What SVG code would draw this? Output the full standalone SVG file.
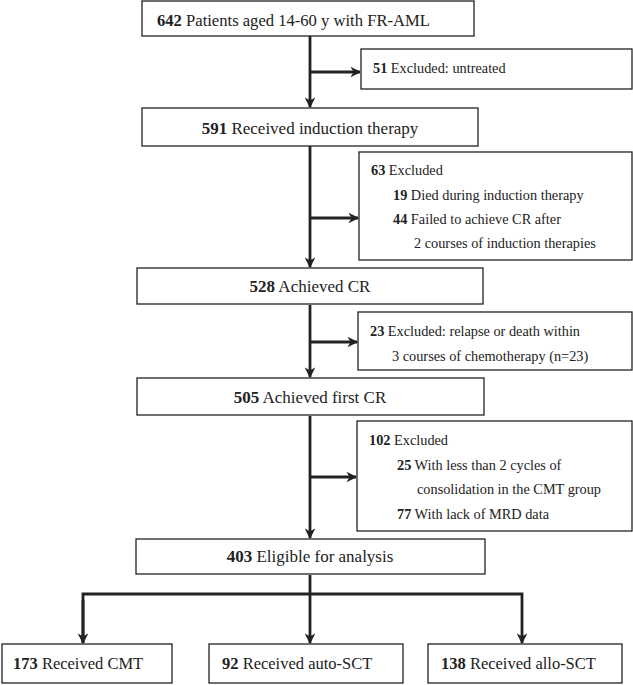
<svg xmlns="http://www.w3.org/2000/svg" width="633" height="685" viewBox="0 0 633 685">
<defs>
<style>
.box{fill:#fff;stroke:#222;stroke-width:1.3}
text{font-family:"Liberation Serif","Times New Roman",serif;font-size:17px;fill:#222}
.c{text-anchor:middle}
.s{font-size:14.3px}
.m{font-size:16.5px}
.b{font-weight:bold}
.ln{stroke:#222;stroke-width:2.8;fill:none}
</style>
<marker id="ah" viewBox="0 0 10 10" refX="9" refY="5" markerWidth="3.8" markerHeight="3.8" orient="auto" markerUnits="strokeWidth">
<path d="M0,0 L10,5 L0,10 L3,5 Z" fill="#222"/>
</marker>
</defs>
<rect width="633" height="685" fill="#fff"/>
<g id="connectors">
<path class="ln" d="M310,36 V107" marker-end="url(#ah)"/>
<path class="ln" d="M310,72 H360" marker-end="url(#ah)"/>
<path class="ln" d="M310,146 V267" marker-end="url(#ah)"/>
<path class="ln" d="M310,218 H358" marker-end="url(#ah)"/>
<path class="ln" d="M310,305 V377" marker-end="url(#ah)"/>
<path class="ln" d="M310,342 H357" marker-end="url(#ah)"/>
<path class="ln" d="M310,416 V538" marker-end="url(#ah)"/>
<path class="ln" d="M310,477 H356" marker-end="url(#ah)"/>
<path class="ln" d="M310,575 V643" marker-end="url(#ah)"/>
<path class="ln" d="M83,643 V594 H522 V643" marker-end="url(#ah)"/>
<path class="ln" d="M83,600 V643" marker-end="url(#ah)"/>
</g>
<g id="n1"><rect class="box" x="142" y="1" width="332" height="35"/><text x="157" y="26" style="font-size:16.6px"><tspan class="b">642</tspan> Patients aged 14-60 y with FR-AML</text></g>
<g id="n1x"><rect class="box" x="361" y="49" width="271" height="40"/><text class="s" x="373" y="73"><tspan class="b">51</tspan> Excluded: untreated</text></g>
<g id="n2"><rect class="box" x="142" y="108" width="336" height="38"/><text class="c" x="310" y="134"><tspan class="b">591</tspan> Received induction therapy</text></g>
<g id="n2x"><rect class="box" x="359" y="152" width="273" height="108"/>
<text class="s" x="371" y="175"><tspan class="b">63</tspan> Excluded</text>
<text class="s" x="393" y="200"><tspan class="b">19</tspan> Died during induction therapy</text>
<text class="s" x="393" y="224"><tspan class="b">44</tspan> Failed to achieve CR after</text>
<text class="s" x="414" y="248">2 courses of induction therapies</text></g>
<g id="n3"><rect class="box" x="137" y="268" width="346" height="36"/><text class="c" x="310" y="292"><tspan class="b">528</tspan> Achieved CR</text></g>
<g id="n3x"><rect class="box" x="358" y="312" width="274" height="58"/>
<text class="s" x="370" y="336"><tspan class="b">23</tspan> Excluded: relapse or death within</text>
<text class="s" x="392" y="361">3 courses of chemotherapy (n=23)</text></g>
<g id="n4"><rect class="box" x="137" y="378" width="347" height="37"/><text class="c" x="310" y="403"><tspan class="b">505</tspan> Achieved first CR</text></g>
<g id="n4x"><rect class="box" x="357" y="421" width="275" height="110"/>
<text class="s" x="369" y="445"><tspan class="b">102</tspan> Excluded</text>
<text class="s" x="397" y="470"><tspan class="b">25</tspan> With less than 2 cycles of</text>
<text class="s" x="417" y="494">consolidation in the CMT group</text>
<text class="s" x="397" y="519"><tspan class="b">77</tspan> With lack of MRD data</text></g>
<g id="n5"><rect class="box" x="136" y="539" width="349" height="35"/><text class="c" x="310" y="562"><tspan class="b">403</tspan> Eligible for analysis</text></g>
<g id="n6"><rect class="box" x="2" y="644" width="170" height="39"/><text class="m" x="13" y="669"><tspan class="b">173</tspan> Received CMT</text></g>
<g id="n7"><rect class="box" x="209" y="644" width="194" height="39"/><text class="m" x="222" y="669"><tspan class="b">92</tspan> Received auto-SCT</text></g>
<g id="n8"><rect class="box" x="428" y="644" width="194" height="39"/><text class="m" x="441" y="669"><tspan class="b">138</tspan> Received allo-SCT</text></g>
</svg>
